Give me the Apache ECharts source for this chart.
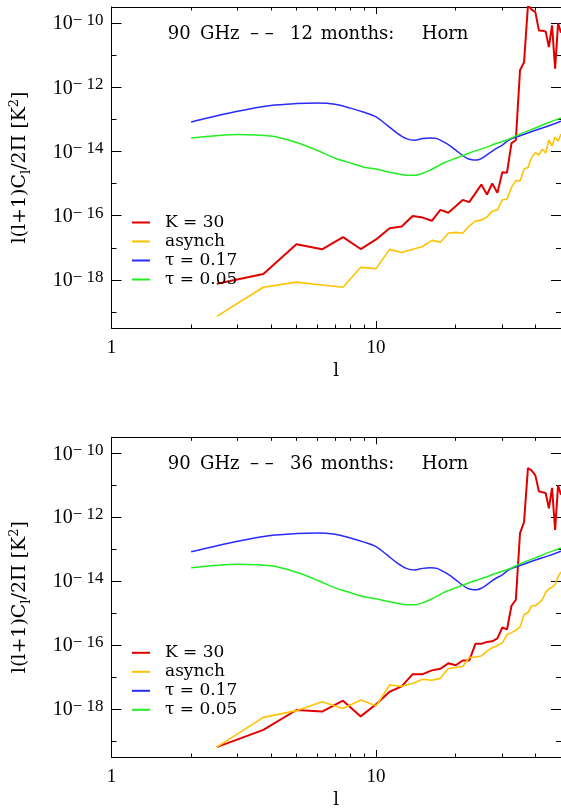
<!DOCTYPE html>
<html>
<head>
<meta charset="utf-8">
<script src="https://cdn.jsdelivr.net/npm/echarts@6/dist/echarts.min.js"></script>
<style>
  html, body { margin: 0; padding: 0; background: #fff; }
  #chart { width: 561px; height: 810px; }
</style>
</head>
<body>
<div id="chart"></div>
<script>
// multipole bins of the noisy spectra
const ellBin = [2.5, 3.75, 5, 6.25, 7.5, 8.75, 10, 11.25, 12.5, 13.75, 15, 16.25, 17.5, 18.75,
  20, 21.25, 22.5, 23.75, 25, 26.25, 27.5, 28.75, 30, 31.25, 32.5, 33.75, 35, 36.25, 37.5, 38.75,
  40, 41.25, 42.5, 43.75, 45, 46.25, 47.5, 48.75, 50]
// multipoles of the smooth theory curves
const ellTheory = [2, 3, 4, 5, 6, 7, 8, 9, 10, 11, 12, 13, 14, 15, 16, 17, 18, 19, 20,
  22, 23, 24, 25, 26, 28, 30, 32, 35, 40, 45, 50]

// all values are log10 of l(l+1)C_l/2pi [K^2]
const k30TopLog = [-18.12, -17.82, -16.89, -17.05, -16.67, -17.04, -16.74, -16.39, -16.34, -16.01,
  -16.06, -16.16, -15.82, -15.91, -15.71, -15.51, -15.58, -15.30, -15.03, -15.34, -15.00, -15.29,
  -14.65, -14.66, -13.74, -13.65, -11.47, -11.22, -9.45, -9.58, -9.66, -10.23, -10.24, -10.26,
  -10.75, -10.07, -11.42, -10.01, -10.30]
const asynchTopLog = [-19.14, -18.23, -18.07, -18.16, -18.23, -17.61, -17.65, -17.05, -17.15, -17.05,
  -16.96, -16.77, -16.83, -16.55, -16.52, -16.55, -16.32, -16.17, -16.14, -16.04, -15.86, -15.82,
  -15.51, -15.48, -15.12, -14.91, -14.92, -14.55, -14.50, -14.18, -14.04, -14.11, -13.93, -14.05,
  -13.65, -13.83, -13.55, -13.68, -13.46]
const k30BottomLog = [-19.19, -18.65, -18.03, -18.08, -17.74, -18.23, -17.85, -17.46, -17.29, -16.91,
  -16.91, -16.79, -16.74, -16.57, -16.63, -16.48, -16.48, -15.96, -15.96, -15.90, -15.88, -15.79,
  -15.45, -15.51, -14.77, -14.58, -12.50, -12.15, -10.46, -10.54, -10.69, -11.19, -11.22, -11.24,
  -11.72, -11.08, -12.40, -11.00, -11.30]
const asynchBottomLog = [-19.19, -18.26, -18.05, -17.77, -17.98, -17.72, -17.90, -17.25, -17.29, -17.20,
  -17.07, -17.10, -17.04, -16.73, -16.70, -16.67, -16.39, -16.37, -16.34, -16.19, -16.08, -16.01,
  -15.93, -15.67, -15.61, -15.54, -15.43, -15.05, -14.98, -14.77, -14.77, -14.68, -14.58, -14.35,
  -14.24, -14.19, -14.11, -13.86, -13.71]
const tau017Log = [-13.08, -12.75, -12.57, -12.51, -12.49, -12.53, -12.65, -12.78, -12.92, -13.18,
  -13.43, -13.60, -13.65, -13.60, -13.58, -13.60, -13.70, -13.82, -13.96,
  -14.21, -14.26, -14.27, -14.22, -14.13, -13.94, -13.80, -13.63, -13.51, -13.34, -13.20, -13.06]
const tau005Log = [-13.58, -13.47, -13.52, -13.72, -13.97, -14.21, -14.36, -14.49, -14.55, -14.63,
  -14.69, -14.74, -14.74, -14.68, -14.58, -14.47, -14.36, -14.28, -14.21,
  -14.08, -14.02, -13.97, -13.92, -13.88, -13.77, -13.69, -13.61, -13.46, -13.27, -13.10, -12.96]

const seriesNames = ['K = 30', 'asynch', 'τ = 0.17', 'τ = 0.05']
const panelTitles = [['90', 'GHz', '– –', '12', 'months:', 'Horn'], ['90', 'GHz', '– –', '36', 'months:', 'Horn']]

// tick positions
const xMajorTicks = [1, 10]
const xMinorTicks = [2, 3, 4, 5, 6, 7, 8, 9, 20, 30, 40]
const yMajorTicks = [1e-10, 1e-12, 1e-14, 1e-16, 1e-18]
const yMinorTicks = [1e-11, 1e-13, 1e-15, 1e-17, 1e-19]

const colors = ['#e00000', '#ffc200', '#2a2aff', '#22ee22']
const widths = [2, 1.6, 1.5, 1.5]

const gridTops = [7, 437.3]
const GRID_H = 321
const labelFont = 'Liberation Serif'
const textFont = 'DejaVu Serif'

function pairs (xs, logs) {
  return xs.map((x, i) => [x, Math.pow(10, logs[i])])
}

const xAxes = []
const yAxes = []
const series = []
const legends = []
const graphics = []

gridTops.forEach((top, g) => {
  const xBase = {
    type: 'log', min: 1, max: 50, gridIndex: g,
    splitLine: { show: false },
    axisLine: { show: false, lineStyle: { color: '#000', width: 1 } },
    axisLabel: { show: false },
  }
  const yBase = {
    type: 'log', min: Math.pow(10, -19.5), max: Math.pow(10, -9.5), gridIndex: g,
    splitLine: { show: false },
    axisLine: { show: false, lineStyle: { color: '#000', width: 1 } },
    axisLabel: { show: false },
  }
  const tick = (vals, len) => ({ show: true, inside: true, length: len, customValues: vals, lineStyle: { color: '#000', width: 1 } })

  const xMain = xAxes.length
  // bottom axis with labels
  xAxes.push({
    ...xBase, position: 'bottom',
    axisLine: { show: true, lineStyle: { color: '#000', width: 1 } },
    axisTick: tick(xMajorTicks, 7),
    axisLabel: {
      show: true, customValues: xMajorTicks, margin: 11,
      fontFamily: labelFont, fontSize: 19, color: '#000',
      formatter: v => String(Math.round(v)),
    },
    name: 'l', nameLocation: 'middle', nameGap: 34,
    nameTextStyle: { fontFamily: textFont, fontSize: 18, color: '#000' },
  })
  xAxes.push({ ...xBase, position: 'bottom', axisTick: tick(xMinorTicks, 3.5) })
  xAxes.push({ ...xBase, position: 'top', axisLine: { show: true, lineStyle: { color: '#000', width: 1 } }, axisTick: tick(xMajorTicks, 7) })
  xAxes.push({ ...xBase, position: 'top', axisTick: tick(xMinorTicks, 3.5) })

  const yMain = yAxes.length
  yAxes.push({
    ...yBase, position: 'left',
    axisLine: { show: true, lineStyle: { color: '#000', width: 1 } },
    axisTick: tick(yMajorTicks, 10),
    axisLabel: {
      show: true, customValues: yMajorTicks, margin: 8, color: '#000',
      formatter: v => '{b|10}{s|− ' + Math.abs(Math.round(Math.log10(v))) + '}',
      rich: {
        b: { fontFamily: labelFont, fontSize: 20, lineHeight: 22, verticalAlign: 'bottom', color: '#000' },
        s: { fontFamily: labelFont, fontSize: 17, lineHeight: 18, padding: [0, 0, 12, 0], verticalAlign: 'top', color: '#000' },
      },
    },
    name: '{a|l(l+1)C}{sub|l}{a|/2Π [K}{sup|2}{a|]}',
    nameLocation: 'middle', nameGap: 78,
    nameTextStyle: {
      color: '#000',
      rich: {
        a: { fontFamily: textFont, fontSize: 19, lineHeight: 26, color: '#000' },
        sub: { fontFamily: textFont, fontSize: 13, lineHeight: 14, padding: [12, 0, 0, 0], color: '#000' },
        sup: { fontFamily: textFont, fontSize: 13, lineHeight: 14, padding: [0, 0, 12, 0], color: '#000' },
      },
    },
  })
  yAxes.push({ ...yBase, position: 'left', axisTick: tick(yMinorTicks, 5) })
  yAxes.push({ ...yBase, position: 'right', axisLine: { show: true, lineStyle: { color: '#000', width: 1 } }, axisTick: tick(yMajorTicks, 10) })
  yAxes.push({ ...yBase, position: 'right', axisTick: tick(yMinorTicks, 5) })

  const k30 = g === 0 ? k30TopLog : k30BottomLog
  const asynch = g === 0 ? asynchTopLog : asynchBottomLog
  const dataSets = [
    pairs(ellBin, k30),
    pairs(ellBin, asynch),
    pairs(ellTheory, tau017Log),
    pairs(ellTheory, tau005Log),
  ]
  dataSets.forEach((d, i) => {
    series.push({
      name: seriesNames[i],
      type: 'line',
      xAxisIndex: xMain,
      yAxisIndex: yMain,
      data: d,
      symbol: 'none',
      smooth: i >= 2 ? 0.3 : false,
      lineStyle: { color: colors[i], width: widths[i] },
      itemStyle: { color: colors[i] },
    })
  })

  legends.push({
    data: seriesNames,
    orient: 'vertical',
    left: 132,
    top: top + 207,
    padding: 0,
    icon: 'rect',
    itemWidth: 18,
    itemHeight: 2,
    itemGap: 2,
    selectedMode: false,
    textStyle: { fontFamily: textFont, fontSize: 17, lineHeight: 17, color: '#000', padding: [0, 0, 0, 10] },
  })

  // panel title, one word at a time to follow the wide spacing of the original
  const wordX = [167.7, 200, 250, 290, 320.7, 421.7]
  panelTitles[g].forEach((w, i) => {
    graphics.push({
      type: 'text', x: wordX[i], y: top + 27,
      style: { text: w, fontFamily: textFont, fontSize: 18, fill: '#000', verticalAlign: 'middle' },
    })
  })
})

const chart = echarts.init(document.getElementById('chart'))
chart.setOption({
  animation: false,
  backgroundColor: '#fff',
  grid: gridTops.map(t => ({ left: 110, top: t, width: 453.1, height: GRID_H })),
  xAxis: xAxes,
  yAxis: yAxes,
  legend: legends,
  graphic: graphics,
  series: series,
})
</script>
</body>
</html>
